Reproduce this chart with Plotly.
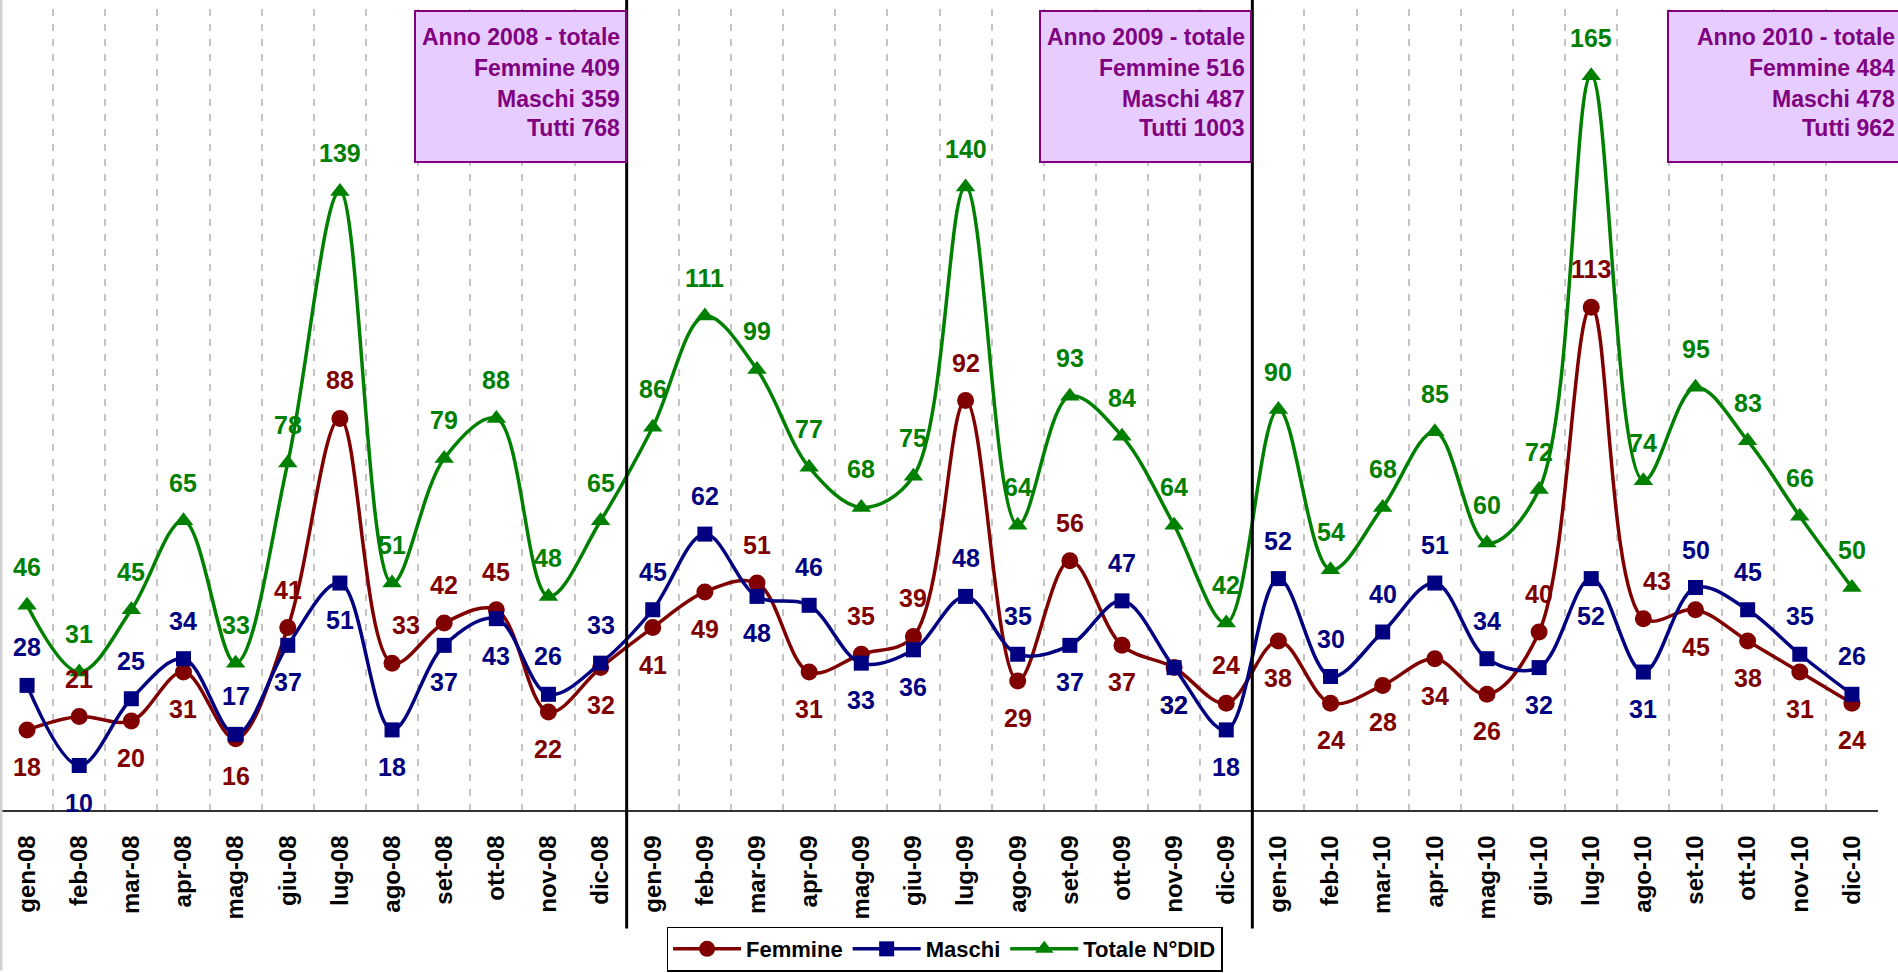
import plotly.graph_objects as go

months = ["gen-08","feb-08","mar-08","apr-08","mag-08","giu-08","lug-08","ago-08","set-08","ott-08","nov-08","dic-08",
          "gen-09","feb-09","mar-09","apr-09","mag-09","giu-09","lug-09","ago-09","set-09","ott-09","nov-09","dic-09",
          "gen-10","feb-10","mar-10","apr-10","mag-10","giu-10","lug-10","ago-10","set-10","ott-10","nov-10","dic-10"]

femmine = [18,21,20,31,16,41,88,33,42,45,22,32,
           41,49,51,31,35,39,92,29,56,37,32,24,
           38,24,28,34,26,40,113,43,45,38,31,24]
maschi = [28,10,25,34,17,37,51,18,37,43,26,33,
          45,62,48,46,33,36,48,35,37,47,32,18,
          52,30,40,51,34,32,52,31,50,45,35,26]
totale = [46,31,45,65,33,78,139,51,79,88,48,65,
          86,111,99,77,68,75,140,64,93,84,64,42,
          90,54,68,85,60,72,165,74,95,83,66,50]

years = ["2008", "2009", "2010"]

# label placement: a = above, b = below
f_pos = list("babbbaaaaabb" "bbabaaababba" "bbbbbaaabbbb")
m_pos = list("abaaabbbbbaa" "aababbaababb" "aaaaabbbaaaa")
t_pos = ["a"] * 36
f_dx = {7: 14, 31: 14}

C_F = "#800000"
C_M = "#000080"
C_T = "#008000"
C_P = "#800080"
FONT = "Liberation Sans, Arial, sans-serif"

x = list(range(len(months)))

fig = go.Figure()
series = [
    ("Femmine", femmine, C_F, "circle", 17),
    ("Maschi", maschi, C_M, "square", 15),
    ("Totale N°DID", totale, C_T, "triangle-up", 17),
]
for name, vals, col, sym, sz in series:
    fig.add_trace(go.Scatter(
        x=x, y=vals, name=name, mode="lines+markers",
        line=dict(color=col, width=3.5, shape="spline", smoothing=1),
        marker=dict(color=col, symbol=sym, size=sz),
        hoverinfo="skip",
    ))

annotations = []
for vals, pos, col, dx in [(femmine, f_pos, C_F, f_dx), (maschi, m_pos, C_M, {}), (totale, t_pos, C_T, {})]:
    for i, (v, p) in enumerate(zip(vals, pos)):
        annotations.append(dict(
            x=i, y=v, xref="x", yref="y", text=str(v), showarrow=False,
            yshift=38 if p == "a" else -37, xshift=dx.get(i, 0),
            font=dict(family=FONT, size=25, color=col, weight="bold"),
        ))

# yearly summary boxes
box_x = [11.5, 23.5, 31.45]
box_anchor = ["right", "right", "left"]
box_w = [209, 209, 236]
text_x = [11.5, 23.5, 35.5]
text_shift = [-5, -5, 19]
line_y = [0.9652, 0.9266, 0.8881, 0.8520]
for k, yr in enumerate(years):
    sl = slice(12 * k, 12 * k + 12)
    lines = [f"Anno {yr} - totale", f"Femmine {sum(femmine[sl])}",
             f"Maschi {sum(maschi[sl])}", f"Tutti {sum(totale[sl])}"]
    annotations.append(dict(
        x=box_x[k], xref="x", xanchor=box_anchor[k],
        y=1.0, yref="paper", yanchor="top", yshift=-1,
        text=" ", showarrow=False, width=box_w[k], height=149,
        bgcolor="#E6CCFF", bordercolor=C_P, borderwidth=2, borderpad=0,
        font=dict(family=FONT, size=10, color=C_P),
    ))
    for ln, yy in zip(lines, line_y):
        annotations.append(dict(
            x=text_x[k], xref="x", xanchor="right", xshift=text_shift[k],
            y=yy, yref="paper", yanchor="middle",
            text=ln, showarrow=False, align="right",
            font=dict(family=FONT, size=23, color=C_P, weight="bold"),
        ))

shapes = []
# year separators
for xs in [11.5, 23.5]:
    shapes.append(dict(type="line", xref="x", yref="paper", x0=xs, x1=xs,
                       y0=-0.148, y1=1.02, line=dict(color="black", width=3)))
# left border
shapes.append(dict(type="line", xref="paper", yref="paper", x0=0, x1=0,
                   y0=-0.2, y1=1.02, line=dict(color="#D0D0D0", width=3)))

fig.update_layout(
    width=1898, height=973,
    margin=dict(l=1, r=20, t=9, b=160),
    paper_bgcolor="white", plot_bgcolor="white",
    showlegend=True,
    legend=dict(orientation="h", x=0.5027, xanchor="center", y=-0.1455, yanchor="top",
                bgcolor="white", bordercolor="black", borderwidth=1.5,
                font=dict(family=FONT, size=22, color="black", weight="bold"),
                itemwidth=68),
    annotations=annotations,
    shapes=shapes,
    xaxis=dict(
        range=[-0.5, 35.5], tickmode="array", tickvals=x, ticktext=months,
        tickangle=-90, showgrid=False, zeroline=False,
        showline=True, linecolor="#333333", linewidth=1.5,
        ticks="", ticklabelstandoff=14,
        tickfont=dict(family=FONT, size=24, color="black", weight="bold"),
        minor=dict(tick0=-0.5, dtick=1, showgrid=True, gridcolor="#C4C4C4",
                   gridwidth=1.5, griddash="7px,8px", ticks=""),
    ),
    yaxis=dict(range=[0, 180], visible=False, showgrid=False, zeroline=False),
)

fig.write_html("out.html", config={"displayModeBar": False},
               post_script="document.body.style.margin='0px';")
